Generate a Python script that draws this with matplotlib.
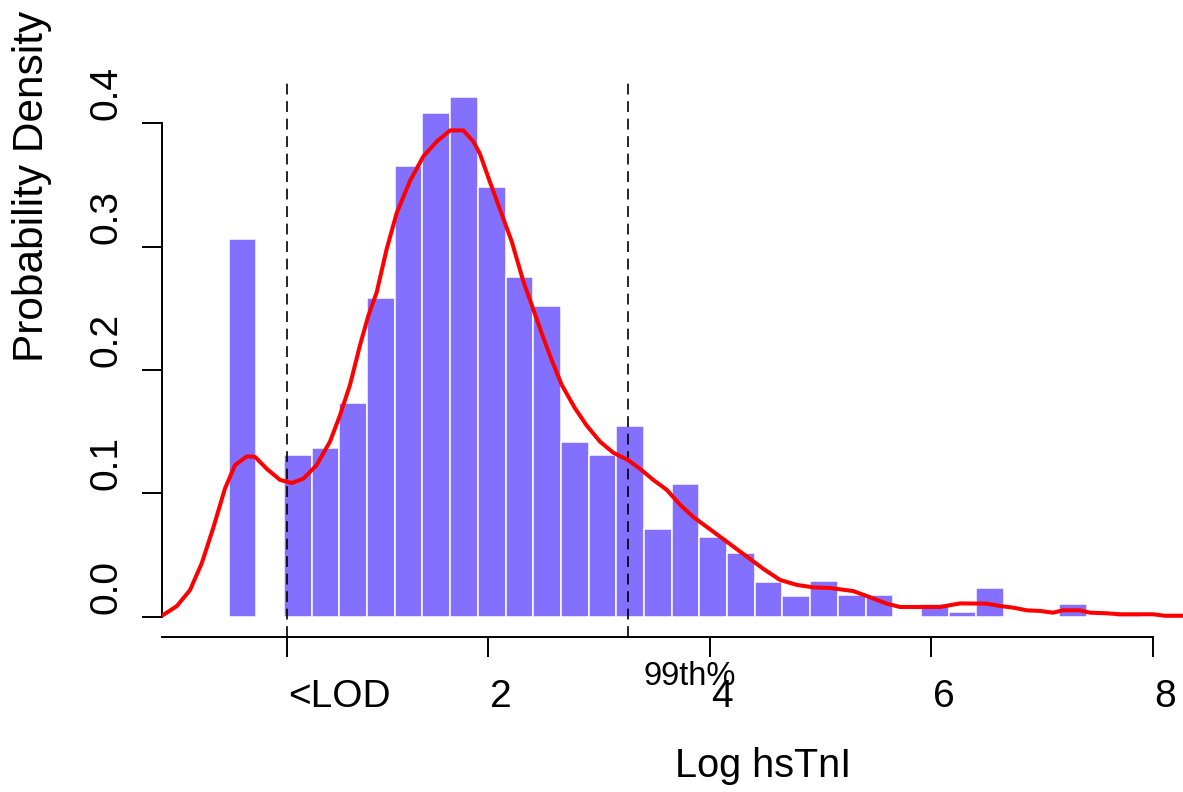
import matplotlib
matplotlib.use("Agg")
import matplotlib.pyplot as plt
import matplotlib.transforms as mtransforms

plt.rcParams['font.family'] = ['Liberation Sans', 'DejaVu Sans']

# ---------------- data ----------------
bin_start = 0.158          # left edge of bin index 0
bin_width = 0.25
bin_index = list(range(-2, 31))
bin_density = [0.306, 0.0, 0.131, 0.137, 0.173, 0.258, 0.365, 0.408, 0.421,
               0.348, 0.275, 0.252, 0.142, 0.131, 0.155, 0.0712, 0.1077,
               0.0651, 0.0521, 0.0287, 0.0174, 0.0289, 0.0175, 0.0175, 0.0,
               0.0103, 0.0043, 0.0232, 0.0, 0.0, 0.0103, 0.0, 0.003]

kde_x = [-0.937, -0.811, -0.691, -0.585, -0.480, -0.375, -0.284, -0.179, -0.104,
         0.002, 0.122, 0.228, 0.332, 0.453, 0.573, 0.664, 0.754, 0.844, 0.916,
         0.995, 1.085, 1.175, 1.295, 1.416, 1.537, 1.657, 1.777, 1.867, 1.927,
         2.018, 2.108, 2.214, 2.318, 2.409, 2.499, 2.575, 2.665, 2.785, 2.891,
         3.011, 3.131, 3.266, 3.372, 3.492, 3.613, 3.733, 3.853, 4.004, 4.155,
         4.335, 4.485, 4.636, 4.787, 4.936, 5.087, 5.297, 5.418, 5.599, 5.719,
         6.080, 6.261, 6.502, 6.622, 6.739, 6.863, 6.983, 7.100, 7.191, 7.344,
         7.434, 7.585, 7.705, 8.003, 8.111, 8.274]
kde_y = [0.0014, 0.0087, 0.0217, 0.0434, 0.0724, 0.104, 0.123, 0.130, 0.1297,
         0.120, 0.111, 0.1085, 0.112, 0.123, 0.142, 0.1635, 0.188, 0.220, 0.243,
         0.263, 0.298, 0.327, 0.353, 0.373, 0.385, 0.394, 0.394, 0.385, 0.375,
         0.352, 0.330, 0.304, 0.272, 0.249, 0.226, 0.208, 0.188, 0.169, 0.155,
         0.142, 0.133, 0.127, 0.120, 0.111, 0.103, 0.091, 0.081, 0.071, 0.061,
         0.049, 0.039, 0.030, 0.026, 0.0240, 0.0235, 0.021, 0.017, 0.0108, 0.0081,
         0.0081, 0.011, 0.0108, 0.0089, 0.0076, 0.0054, 0.0049, 0.0035, 0.0054, 0.0054,
         0.0035, 0.003, 0.0022, 0.0022, 0.001, 0.001]

lod_x = 0.1814
p99_x = 3.264
x_ticks = [lod_x, 2, 4, 6, 8]
x_tick_labels = ["<LOD", "2", "4", "6", "8"]
y_ticks = [0.0, 0.1, 0.2, 0.3, 0.4]
y_tick_labels = ["0.0", "0.1", "0.2", "0.3", "0.4"]
x_label = "Log hsTnI"
y_label = "Probability Density"
p99_label = "99th%"

# ---------------- figure ----------------
W, H = 1183, 792
fig = plt.figure(figsize=(W / 100, H / 100), dpi=100)
fig.patch.set_facecolor("white")

L, R, T, B = 162, 1183, 83, 637
ax = fig.add_axes([L / W, 1 - B / H, (R - L) / W, (B - T) / H])
ax.set_xlim(-0.9434, 8.274)
ax.set_ylim(-0.0162, 0.4324)

lefts = [bin_start + k * bin_width for k in bin_index]
ax.bar(lefts, bin_density, width=bin_width, align='edge', color='#8470FF',
       edgecolor='white', linewidth=1.1, zorder=2)

for xv in (lod_x, p99_x):
    ax.axvline(xv, color='black', lw=1.2, dashes=(6.5, 4), zorder=3)

ax.plot(kde_x, kde_y, color='#FF0000', lw=2.9, zorder=4,
        solid_joinstyle='round', solid_capstyle='round')

for s in ('top', 'right'):
    ax.spines[s].set_visible(False)
ax.spines['left'].set_bounds(0, 0.4)
ax.spines['bottom'].set_bounds(-0.9434, 8.0)
for s in ('left', 'bottom'):
    ax.spines[s].set_linewidth(1.4)

ax.set_xticks(x_ticks)
ax.set_yticks(y_ticks)
ax.set_xticklabels([])
ax.set_yticklabels([])
ax.tick_params(axis='both', direction='out', length=14.4, width=1.4, color='black')

fs = 28

# x tick labels: left-aligned at ticks
xt = mtransforms.blended_transform_factory(ax.transData, fig.transFigure)
xt_off = mtransforms.offset_copy(xt, fig=fig, x=2, y=0, units='dots')
for xv, lab in zip(x_ticks, x_tick_labels):
    ax.text(xv, 1 - 707 / H, lab, transform=xt_off, ha='left', va='baseline',
            fontsize=fs, clip_on=False)

# y tick labels: rotated, starting just above the tick
yt = mtransforms.blended_transform_factory(fig.transFigure, ax.transData)
yt_off = mtransforms.offset_copy(yt, fig=fig, x=0, y=3, units='dots')
for yv, lab in zip(y_ticks, y_tick_labels):
    ax.text(117 / W, yv, lab, transform=yt_off, rotation=90, rotation_mode='anchor',
            ha='left', va='baseline', fontsize=fs, clip_on=False)

# 99th% label
ax.text(3.399, 1 - 685 / H, p99_label, transform=xt, ha='left', va='baseline',
        fontsize=23.5, clip_on=False)

# axis titles
fig.text(675 / W, 1 - 777 / H, x_label, ha='left', va='baseline', fontsize=28.5)
fig.text(43 / W, 1 - 362 / H, y_label, rotation=90, rotation_mode='anchor',
         ha='left', va='baseline', fontsize=30.5)

fig.savefig("out.png", dpi=100, facecolor="white")
